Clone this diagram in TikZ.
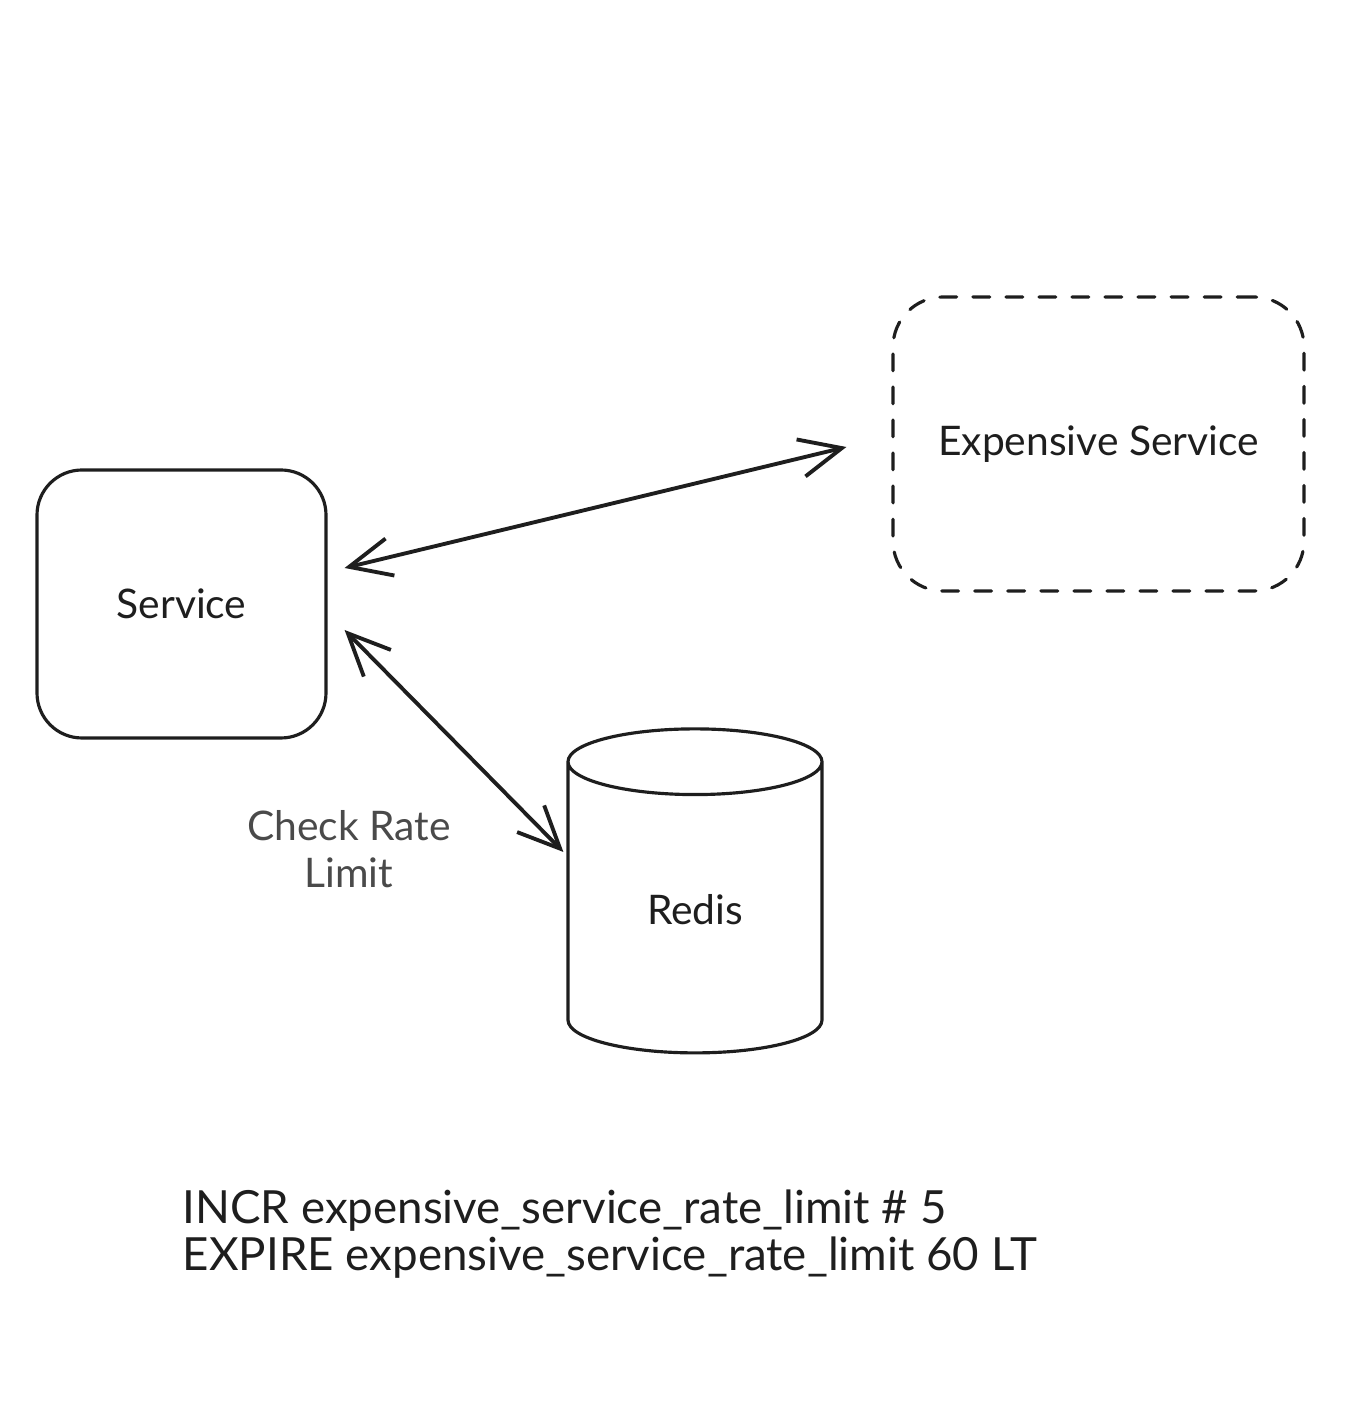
\documentclass[tikz,border=0pt]{standalone}
\usepackage{fontspec}
\setmainfont{Lato}
\usepackage{tikz}
\usetikzlibrary{arrows.meta,calc,positioning,shapes.geometric}
\definecolor{inkdark}{HTML}{1E1E1E}
\definecolor{inkgray}{HTML}{4A4A4A}

\begin{document}
\begin{tikzpicture}[line cap=round,line join=round,x=1.0cm,y=1.0cm,
  >={Straight Barb[length=4.2mm,width=3.8mm]},
  txt/.style={font=\fontsize{11.6}{13.4}\selectfont, text=inkdark},
  svcbox/.style={txt, draw=inkdark, line width=0.9pt, rounded corners=0.45cm, minimum width=2.89cm, minimum height=2.68cm},
  extbox/.style={svcbox, dash pattern=on 4.8pt off 4.6pt, rounded corners=0.5cm, minimum width=4.11cm, minimum height=2.94cm},
  dbstore/.style={txt, draw=inkdark, line width=0.9pt, cylinder, shape border rotate=90, aspect=0.55, minimum width=2.54cm, minimum height=3.24cm},
  link/.style={<->, draw=inkdark, line width=1.1pt}]
\useasboundingbox (0,0) rectangle (13.62,14.06);

% boxes
\node[svcbox] (service) at (1.815,8.02) {Service};
\node[extbox] (expsvc) at (10.985,9.62) {Expensive Service};
\node[dbstore] (redis) at (6.95,4.91) {\raisebox{1.1mm}{Redis}};

% links
\draw[link] ([xshift=1.7mm,yshift=3.6mm]service.east) -- ([xshift=-4.5mm,yshift=-0.3mm]expsvc.west);
\draw[link] ([xshift=1.7mm,yshift=-2.6mm]service.east) -- ([xshift=-0.3mm,yshift=6.3mm]redis.west);
\node[txt, text=inkgray, align=center] (check) at (3.49,5.57) {Check Rate\\Limit};

% redis commands
\node[txt, font=\fontsize{13}{13.4}\selectfont, align=left, anchor=west, inner sep=0pt] (cmds) at (1.82,1.72)
  {INCR expensive\_service\_rate\_limit \# 5\\EXPIRE expensive\_service\_rate\_limit 60 LT};
\end{tikzpicture}
\end{document}
